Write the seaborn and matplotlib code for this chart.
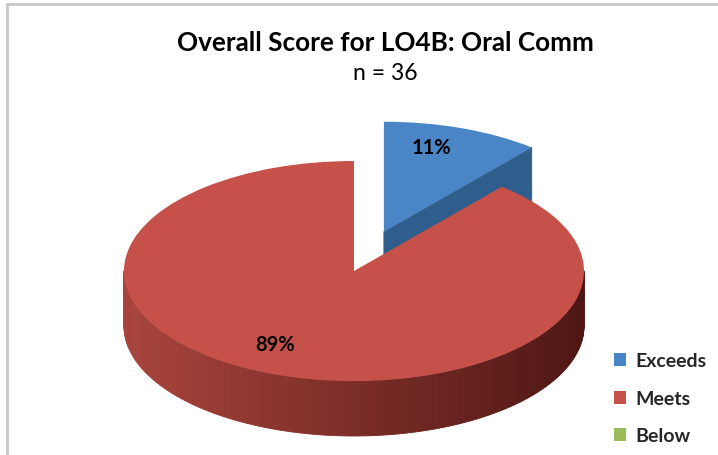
import numpy as np
import matplotlib
matplotlib.use("Agg")
import matplotlib.pyplot as plt
from matplotlib.patches import Patch, Rectangle
from matplotlib.colors import to_rgb
import seaborn as sns

# data
categories = ["Exceeds", "Meets", "Below"]
counts = [4, 32, 0]
title = "Overall Score for LO4B: Oral Comm"
subtitle = "n = 36"
explode = [0.38, 0.0, 0.0]

# styling
top_colors = ["#4a85c6", "#c6504a", "#9bbb59"]
side_light = ["#3d70a3", "#a9443c", "#7f9c46"]
side_dark = ["#25507c", "#4e1613", "#5a7030"]

W, H = 718, 456
CX, CY, RX, RY, DEPTH = 354, 272, 230, 110, 55

sns.set_theme(style="white")
plt.rcParams["font.family"] = ["Lato", "DejaVu Sans"]

fig = plt.figure(figsize=(W / 100, H / 100), dpi=100)
ax = fig.add_axes([0, 0, 1, 1])
depth = DEPTH / RY


def shade(i, c):
    # c = cos(angle): left side lighter, right side darker
    t = (c + 1) / 2
    lo, hi = np.array(to_rgb(side_light[i])), np.array(to_rgb(side_dark[i]))
    return tuple(lo * (1 - t) + hi * t)


def px(x, y):
    # pixel position -> data position
    return (x - CX) / RX, (CY - y) / RY


# sides of the 3d pie (only the faces turned toward the viewer)
fracs = np.array(counts) / sum(counts)
start = 90.0
for i, f in enumerate(fracs):
    if f == 0:
        continue
    a1, a2 = start, start - 360 * f
    start = a2
    mid = np.radians((a1 + a2) / 2)
    ox, oy = explode[i] * np.cos(mid), explode[i] * np.sin(mid)
    ts = np.radians(np.linspace(a2, a1, int(abs(a1 - a2)) + 2))
    for t0, t1 in zip(ts[:-1], ts[1:]):
        tm = (t0 + t1) / 2
        if np.sin(tm) >= 0:
            continue
        xs = ox + np.array([np.cos(t0), np.cos(t1), np.cos(t1), np.cos(t0)])
        ys = oy + np.array([np.sin(t0), np.sin(t1), np.sin(t1) - depth, np.sin(t0) - depth])
        col = shade(i, np.cos(tm))
        ax.fill(xs, ys, color=col, lw=0.6, zorder=1)
    for a, vis in ((a1, np.cos(np.radians(a1)) < -1e-9), (a2, np.cos(np.radians(a2)) > 1e-9)):
        if vis:
            ca, sa = np.cos(np.radians(a)), np.sin(np.radians(a))
            xs = ox + np.array([0, ca, ca, 0])
            ys = oy + np.array([0, sa, sa - depth, -depth])
            ax.fill(xs, ys, color=shade(i, 0.2), lw=0.6, zorder=1)

# top faces
wedges, texts, autotexts = ax.pie(
    counts, explode=explode, startangle=90, counterclock=False,
    colors=top_colors,
    autopct=lambda p: f"{p:.0f}%" if p > 0.5 else "",
    pctdistance=0.75,
    wedgeprops=dict(linewidth=0, zorder=2),
    textprops=dict(fontsize=14.5, fontweight="bold", color="black"),
)
autotexts[0].set_position(px(431, 148))
autotexts[1].set_position(px(275, 345))

ax.set_aspect("auto")
ax.set_xlim(-CX / RX, (W - CX) / RX)
ax.set_ylim(-(H - CY) / RY, CY / RY)
ax.axis("off")

fig.text(385 / W, 1 - 43 / H, title, ha="center", va="center",
         fontsize=18.8, fontweight="bold", color="black")
fig.text(385 / W, 1 - 74 / H, subtitle, ha="center", va="center",
         fontsize=16.5, color="black")

handles = [Patch(facecolor=c, edgecolor="none") for c in top_colors]
fig.legend(handles, categories, loc="upper left",
           bbox_to_anchor=(596 / W, 1 - 336 / H), frameon=False,
           handlelength=0.65, handleheight=0.65, labelspacing=1.05,
           handletextpad=0.45, prop=dict(weight="bold", size=14))

# chart area border
fig.patches.append(Rectangle((7 / W, -0.1), 1.2, 1.1 - 5 / H,
                             transform=fig.transFigure, fill=False,
                             edgecolor="#c8c8c8", lw=2))

fig.savefig("out.png", dpi=100, facecolor="white")
